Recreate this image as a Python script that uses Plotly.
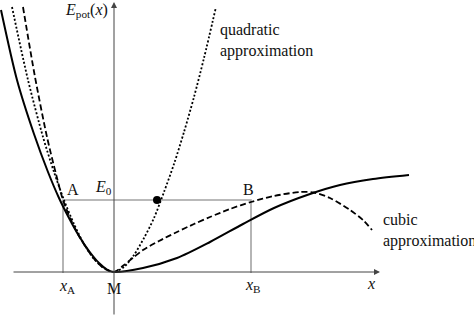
import plotly.graph_objects as go

# ---- data (arbitrary units; origin at minimum M) ----
solid_x = [-113, -97, -80, -66, -55, -45, -35, -25, -15, -7, 0,
           29, 63, 96, 129, 160, 196, 226, 259, 295]
solid_y = [262, 192, 138, 100, 74, 54, 36, 21, 9, 2.5, 0,
           4, 14, 30, 48, 64, 78, 87, 93, 97]

quad_x = [-102, -86, -71, -60, -50, -40, -30, -20, -10, 0,
          10, 20, 30, 40, 50, 60, 70, 80, 90, 102]
quad_y = [265, 192, 135, 100, 72, 48, 28, 13, 4, 0,
          5, 17, 34, 54, 80, 108, 140, 175, 214, 265]

cubic_x = [-91, -79, -67, -58, -51, -43, -35, -27, -18, -9, 0,
           10, 20, 29, 45, 63, 80, 96, 116, 137, 160, 186, 200, 216, 236, 249, 258]
cubic_y = [265, 195, 135, 98, 72, 52, 36, 23, 11, 3, 0,
           7, 15, 22, 31, 40, 48, 55, 63, 70, 76, 80, 79.5, 74, 62, 52, 42]

E0 = 72
x_A = -51
x_B = 137
dot_x = [43]
dot_y = [72]

SERIF = "Liberation Serif"
LINE = "#000000"
GRAY = "#a3a3a3"
AX = "#444444"

fig = go.Figure()

# guide lines (E0 level and turning points)
fig.add_trace(go.Scatter(x=[x_A, x_A, x_B, x_B], y=[-1, E0, E0, -1], mode="lines",
                         line=dict(color=GRAY, width=1.6), hoverinfo="skip"))

fig.add_trace(go.Scatter(x=quad_x, y=quad_y, mode="lines",
                         line=dict(color=LINE, width=1.8, dash="2px,2px", shape="spline", smoothing=0.8)))
fig.add_trace(go.Scatter(x=cubic_x, y=cubic_y, mode="lines",
                         line=dict(color=LINE, width=1.8, dash="6px,3px", shape="spline", smoothing=0.8)))
fig.add_trace(go.Scatter(x=solid_x, y=solid_y, mode="lines",
                         line=dict(color=LINE, width=2, shape="spline", smoothing=0.8)))
fig.add_trace(go.Scatter(x=dot_x, y=dot_y, mode="markers",
                         marker=dict(color=LINE, size=8)))

# axes with arrows
fig.add_annotation(x=266, y=0, ax=-102, ay=0, axref="x", ayref="y", xref="x", yref="y",
                   text="", showarrow=True, arrowhead=2, arrowsize=1.2, arrowwidth=1, arrowcolor=AX)
fig.add_annotation(x=0, y=270, ax=0, ay=-44, axref="x", ayref="y", xref="x", yref="y",
                   text="", showarrow=True, arrowhead=2, arrowsize=1.2, arrowwidth=1, arrowcolor=AX)

def label(x, y, text, xanchor="center", align="center", size=16):
    fig.add_annotation(x=x, y=y, text=text, showarrow=False, xanchor=xanchor, yanchor="middle",
                       align=align, font=dict(family=SERIF, size=size, color="#111111"))

label(-28, 262, "<i>E</i><sub>pot</sub>(<i>x</i>)")
label(104, 232, "quadratic<br>approximation", xanchor="left", align="left")
label(267, 42, "cubic<br>approximation", xanchor="left", align="left")
label(-41, 83, "A")
label(-11, 85, "<i>E</i><sub>0</sub>")
label(134, 83, "B")
label(-47, -14, "<i>x</i><sub>A</sub>")
label(0, -16, "M")
label(139, -13, "<i>x</i><sub>B</sub>")
label(257, -11, "<i>x</i>")

fig.update_layout(
    width=474, height=316, margin=dict(l=0, r=0, t=0, b=0),
    paper_bgcolor="white", plot_bgcolor="white", showlegend=False,
    font=dict(family=SERIF),
    xaxis=dict(range=[-114, 360], visible=False, fixedrange=True),
    yaxis=dict(range=[-44, 272], visible=False, fixedrange=True),
)

fig.write_html("out.html")
